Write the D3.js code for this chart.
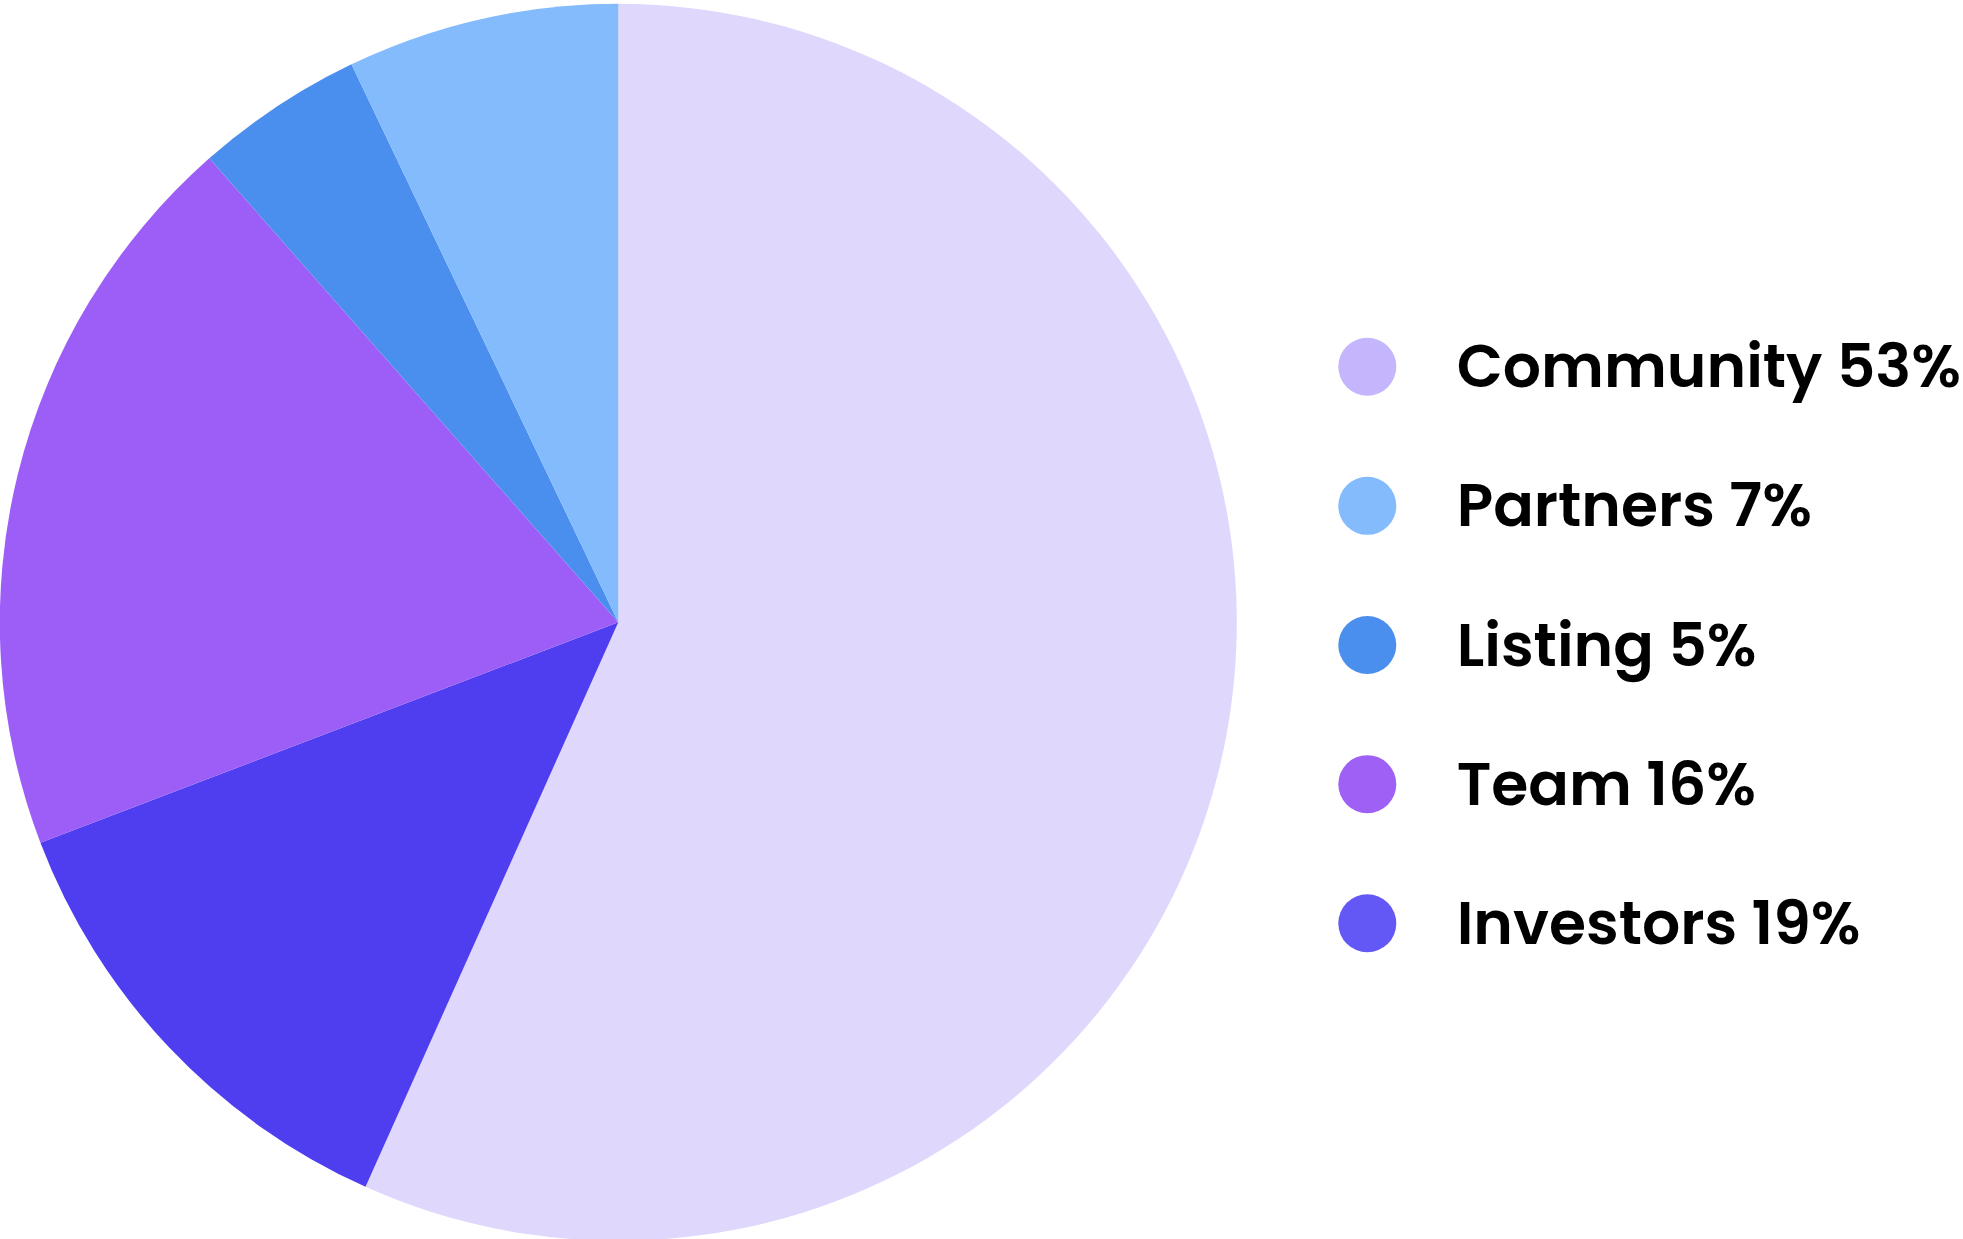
<!DOCTYPE html>
<html>
<head>
<meta charset="utf-8">
<script src="https://cdn.jsdelivr.net/npm/d3@7"></script>
<style>
  html, body { margin: 0; padding: 0; background: #ffffff; overflow: hidden; }
  svg { display: block; }
</style>
</head>
<body>
<script>
// Slice order as drawn (clockwise from 12 o'clock)
const sliceNames = ["Community", "Investors", "Team", "Listing", "Partners"];
const sliceValues = [56.7, 12.5, 19.3, 4.4, 7.1];
const sliceColors = ["#DFD7FC", "#4E3EF0", "#9D5EF7", "#4A8EEE", "#84BBFD"];

// Legend (as printed)
const legendNames = ["Community", "Partners", "Listing", "Team", "Investors"];
const legendPercents = ["53%", "7%", "5%", "16%", "19%"];
const legendColors = ["#C4B5FD", "#84BBFD", "#4A8EEE", "#9F60F6", "#6358F5"];

const W = 1963, H = 1239;
const cx = 618.3, cy = 622.3, R = 618.5;

const svg = d3.select("body").append("svg")
  .attr("width", W).attr("height", H);

const pie = d3.pie().sort(null).value(d => d.value);
const arc = d3.arc().innerRadius(0).outerRadius(R);
const data = sliceNames.map((n, i) => ({ name: n, value: sliceValues[i], color: sliceColors[i] }));

svg.append("g").attr("transform", `translate(${cx},${cy})`)
  .selectAll("path").data(pie(data)).join("path")
  .attr("d", arc)
  .attr("fill", d => d.data.color);

// Legend
const legendY = d3.scalePoint().domain(legendNames).range([366.7, 923.3]);
const lg = svg.append("g");
const rows = lg.selectAll("g").data(legendNames).join("g")
  .attr("transform", d => `translate(0,${legendY(d)})`);
rows.append("circle")
  .attr("cx", 1367.3).attr("cy", 0).attr("r", 29)
  .attr("fill", (d, i) => legendColors[i]);
rows.append("text")
  .attr("x", 1456.7).attr("y", 20.5)
  .attr("font-family", "Poppins, Inter, 'Open Sans', sans-serif")
  .attr("font-weight", 600)
  .attr("font-size", 60)
  .attr("fill", "#000")
  .text((d, i) => `${d} ${legendPercents[i]}`);
</script>
</body>
</html>
